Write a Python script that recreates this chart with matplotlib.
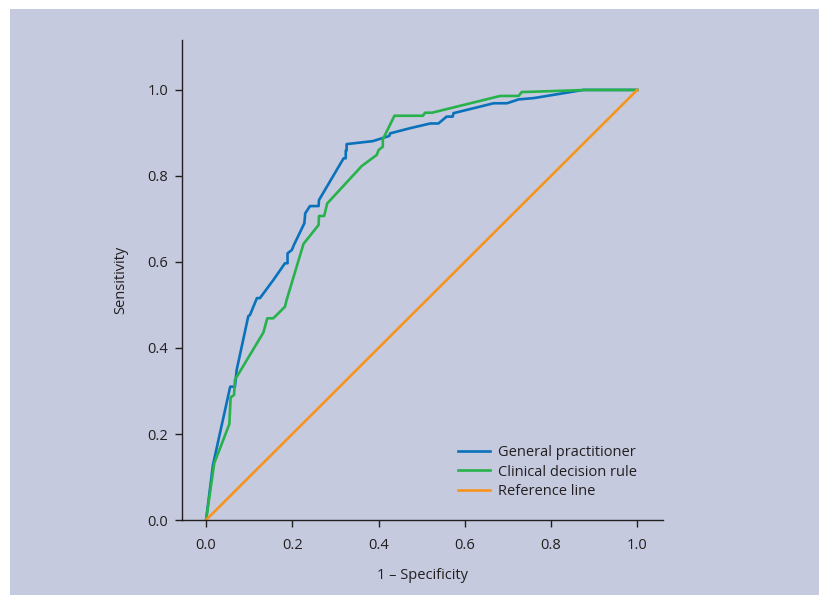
import matplotlib
matplotlib.use("Agg")
import matplotlib.pyplot as plt
from matplotlib.patches import Rectangle

plt.rcParams["font.family"] = ["Open Sans", "DejaVu Sans"]

# ROC curve points (1 - specificity, sensitivity)
gp_fpr = [0.0, 0.016, 0.056, 0.067, 0.071, 0.098, 0.102, 0.118, 0.125, 0.156,
          0.183, 0.189, 0.189, 0.199, 0.204, 0.228, 0.230, 0.241, 0.261, 0.262,
          0.319, 0.324, 0.324, 0.326, 0.326, 0.387, 0.425, 0.427, 0.473, 0.520,
          0.539, 0.558, 0.572, 0.574, 0.667, 0.698, 0.725, 0.760, 0.875, 1.0]
gp_tpr = [0.0, 0.128, 0.310, 0.310, 0.349, 0.474, 0.477, 0.516, 0.516, 0.558,
          0.597, 0.597, 0.620, 0.628, 0.640, 0.690, 0.713, 0.730, 0.730, 0.744,
          0.841, 0.841, 0.859, 0.859, 0.874, 0.881, 0.893, 0.899, 0.911, 0.922,
          0.922, 0.938, 0.938, 0.946, 0.969, 0.969, 0.978, 0.981, 1.0, 1.0]

cdr_fpr = [0.0, 0.019, 0.054, 0.057, 0.065, 0.067, 0.133, 0.142, 0.156, 0.183,
           0.187, 0.226, 0.261, 0.262, 0.274, 0.281, 0.361, 0.396, 0.400, 0.410,
           0.410, 0.437, 0.503, 0.508, 0.524, 0.682, 0.725, 0.732, 0.883, 1.0]
cdr_tpr = [0.0, 0.132, 0.223, 0.285, 0.291, 0.326, 0.436, 0.469, 0.469, 0.496,
           0.512, 0.642, 0.686, 0.707, 0.707, 0.736, 0.823, 0.849, 0.860, 0.868,
           0.885, 0.940, 0.940, 0.947, 0.947, 0.986, 0.986, 0.995, 1.0, 1.0]

ref_x = [0.0, 1.0]
ref_y = [0.0, 1.0]

tick_vals = [0.0, 0.2, 0.4, 0.6, 0.8, 1.0]
tick_labels = ["0.0", "0.2", "0.4", "0.6", "0.8", "1.0"]

bg = "#c5cadf"
ink = "#231f20"

fig = plt.figure(figsize=(8.2, 5.95), dpi=100, facecolor="white")
fig.patches.append(Rectangle((10 / 820, 0), 810 / 820, 586 / 595,
                             transform=fig.transFigure, facecolor=bg,
                             edgecolor="none", zorder=-10))

ax = fig.add_axes([0.222, 0.126, 0.5866, 0.8067])
ax.set_facecolor("none")

ax.plot(gp_fpr, gp_tpr, color="#0a72ba", lw=1.9, label="General practitioner")
ax.plot(cdr_fpr, cdr_tpr, color="#27b24b", lw=1.9, label="Clinical decision rule")
ax.plot(ref_x, ref_y, color="#f7941d", lw=1.9, label="Reference line")

ax.set_xlim(-0.0557, 1.06)
ax.set_ylim(0, 1.116)
ax.set_xticks(tick_vals)
ax.set_xticklabels(tick_labels)
ax.set_yticks(tick_vals)
ax.set_yticklabels(tick_labels)

for side in ["top", "right"]:
    ax.spines[side].set_visible(False)
for side in ["left", "bottom"]:
    ax.spines[side].set_color(ink)
    ax.spines[side].set_linewidth(1.0)
ax.tick_params(direction="out", length=5, width=1.0, color=ink,
               labelcolor=ink, labelsize=10.5, pad=5)
ax.tick_params(axis="x", pad=8)

ax.set_xlabel("1 \u2013 Specificity", fontsize=10.5, color=ink, labelpad=11)
ax.set_ylabel("Sensitivity", fontsize=10.5, color=ink, labelpad=14)

leg = ax.legend(loc="lower left", bbox_to_anchor=(0.574, 0.044),
                frameon=False, fontsize=10.5, handlelength=2.2,
                handletextpad=0.55, labelspacing=0.3, borderaxespad=0,
                borderpad=0)
for t in leg.get_texts():
    t.set_color(ink)

fig.savefig("out.png", dpi=100, facecolor="white")
